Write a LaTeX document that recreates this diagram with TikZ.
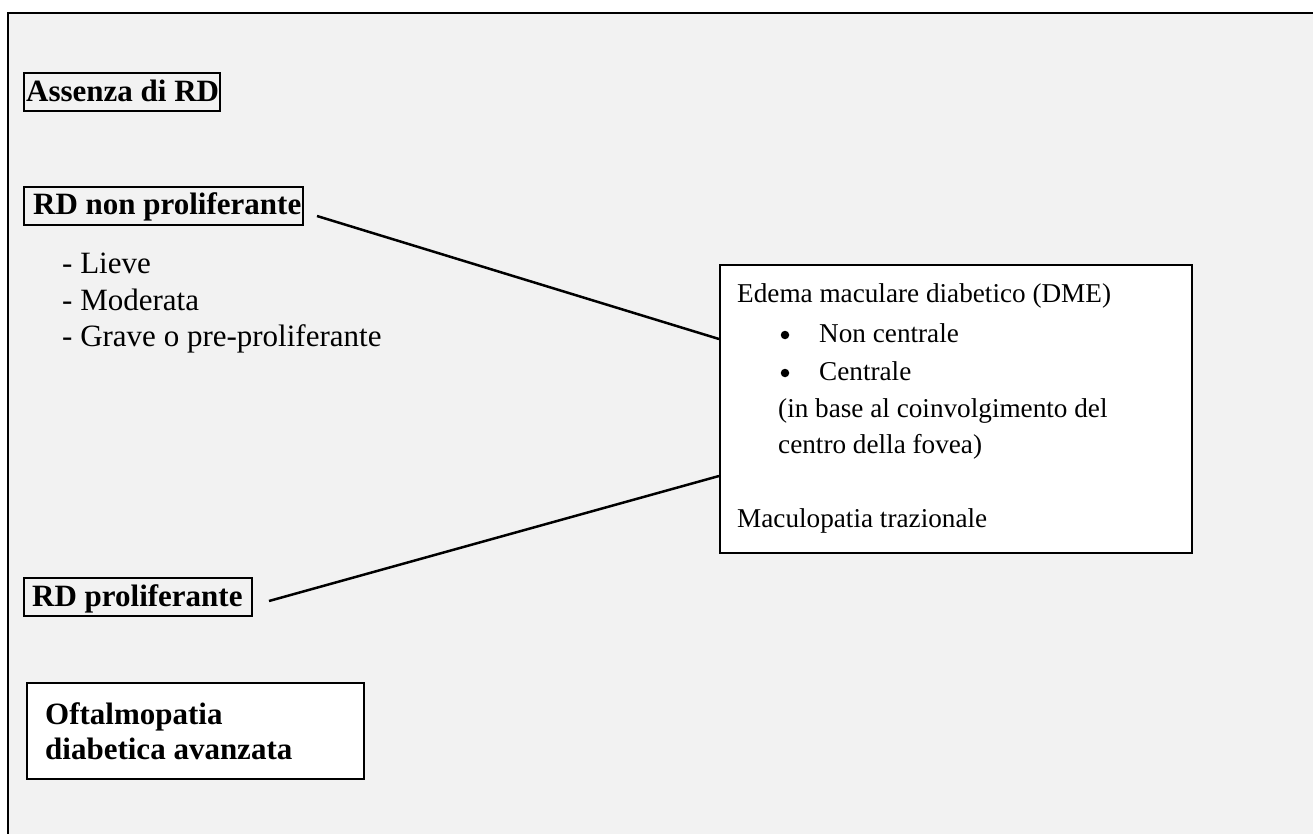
\documentclass[tikz,border=0pt]{standalone}
\usepackage{fontspec}
\setmainfont{Liberation Serif}
\definecolor{bgg}{RGB}{242,242,242}
\begin{document}
\begin{tikzpicture}[x=1pt,y=-1pt,
  frame/.style={line width=2.5pt},
  lbox/.style={draw, line width=2pt, inner sep=0pt, anchor=north west},
  btxt/.style={anchor=base west, inner sep=0pt, font=\fontsize{31}{36}\selectfont\bfseries},
  rtxt/.style={anchor=base west, inner sep=0pt, font=\fontsize{31}{36}\selectfont},
  stxt/.style={anchor=base west, inner sep=0pt, font=\fontsize{27.2}{37}\selectfont},
  bul/.style={circle, fill=black, inner sep=0pt, minimum size=8.5pt},
  conn/.style={line width=2.5pt}]
\useasboundingbox (0,0) rectangle (1313,834);
\fill[white] (0,0) rectangle (1313,834);
\fill[bgg] (8,13) rectangle (1313,834);
\draw[frame] (8,834) -- (8,13) -- (1313,13);

% boxes
\node[lbox, minimum width=196pt, minimum height=38pt] (absent) at (23,72) {};
\node[btxt] (absentT) at (26,102) {Assenza di RD};

\node[lbox, minimum width=279pt, minimum height=38pt] (npdr) at (23,186) {};
\node[btxt] (npdrT) at (33,215) {RD non proliferante};

\node[rtxt] (l1) at (62,273) {- Lieve};
\node[rtxt] (l2) at (62,310) {- Moderata};
\node[rtxt] (l3) at (62,346) {- Grave o pre-proliferante};

\node[lbox, minimum width=228pt, minimum height=38pt] (pdr) at (23,577) {};
\node[btxt] (pdrT) at (32,606) {RD proliferante};

\node[lbox, fill=white, minimum width=337pt, minimum height=96pt] (adv) at (26,682) {};
\node[btxt] (advT1) at (45,724) {Oftalmopatia};
\node[btxt] (advT2) at (45,759) {diabetica avanzata};

\node[lbox, fill=white, minimum width=472pt, minimum height=288pt] (dme) at (719,264) {};
\node[stxt] (d1) at (737,302) {Edema maculare diabetico (DME)};
\node[bul] (b1) at (785,335) {};
\node[stxt] (d2) at (819,342) {Non centrale};
\node[bul] (b2) at (785,373) {};
\node[stxt] (d3) at (819,380) {Centrale};
\node[stxt] (d4) at (778,417) {(in base al coinvolgimento del};
\node[stxt] (d5) at (778,453) {centro della fovea)};
\node[stxt] (d6) at (737,527) {Maculopatia trazionale};

% connectors
\draw[conn] ([shift={(13,10)}]npdr.east) -- ([shift={(0,-70)}]dme.west);
\draw[conn] ([shift={(16,4)}]pdr.east) -- ([shift={(0,67)}]dme.west);
\end{tikzpicture}
\end{document}
